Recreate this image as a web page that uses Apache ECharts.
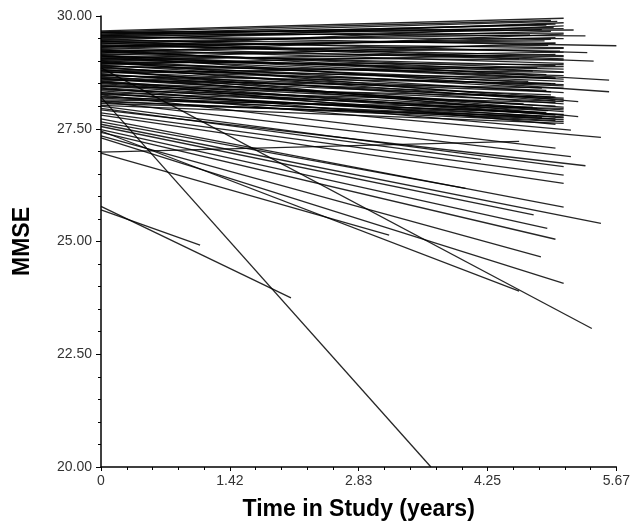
<!DOCTYPE html>
<html>
<head>
<meta charset="utf-8">
<script src="https://cdn.jsdelivr.net/npm/echarts@6/dist/echarts.min.js"></script>
<style>
	html, body { margin: 0; padding: 0; background: #fff; }
	#mmse_chart { width: 633px; height: 527px; }
</style>
</head>
<body>
<div id="mmse_chart"></div>
<script>
	// one entry per subject: value at time 0, last visit time, value at last visit
	var startY = [
		29.67, 29.65, 29.63, 29.62, 29.60, 29.58, 29.57, 29.55, 29.53, 29.52,
		29.50, 29.48, 29.46, 29.45, 29.43, 29.41, 29.40, 29.38, 29.36, 29.35,
		29.33, 29.31, 29.30, 29.28, 29.26, 29.25, 29.23, 29.21, 29.20, 29.18,
		29.16, 29.15, 29.13, 29.11, 29.10, 29.08, 29.06, 29.05, 29.03, 29.01,
		29.00, 28.98, 28.96, 28.95, 28.93, 28.91, 28.90, 28.88, 28.86, 28.84,
		28.82, 28.80, 28.78, 28.76, 28.74, 28.72, 28.70, 28.68, 28.66, 28.64,
		28.62, 28.60, 28.58, 28.56, 28.53, 28.50, 28.47, 28.44, 28.41, 28.38,
		28.34, 28.30, 28.26, 28.22, 28.18, 28.14, 28.10,
		28.97, 28.87, 28.79, 28.69, 28.61, 28.52, 28.45, 28.36, 28.28, 28.20,
		28.12, 28.06, 28.02, 29.02, 29.12, 29.22, 29.32, 29.44, 29.56, 29.64,
		28.55, 28.40, 28.30, 28.25, 28.10, 27.95, 28.00, 27.92, 27.85, 27.80,
		27.65, 27.72, 27.55, 27.60, 27.48, 27.42, 27.34, 27.30, 27.45, 26.96,
		26.98, 28.85, 28.20, 25.70, 25.78
	];
	var endX = [
		5.09, 4.95, 5.20, 5.33, 5.02, 4.90, 5.09, 5.67, 4.98, 5.09,
		4.85, 5.35, 5.09, 5.00, 4.72, 5.09, 5.42, 4.95, 5.09, 4.88,
		5.05, 5.09, 4.60, 5.00, 5.09, 5.59, 4.92, 5.09, 4.80, 5.09,
		5.00, 5.09, 4.90, 5.59, 5.09, 4.75, 5.09, 5.00, 5.09, 4.95,
		5.25, 5.09, 4.85, 5.09, 5.00, 5.09, 4.70, 5.09, 4.98, 5.09,
		5.25, 5.00, 5.09, 4.90, 5.09, 4.80, 5.09, 5.00, 5.09, 4.95,
		5.09, 4.65, 5.09, 5.00, 5.09, 4.88, 5.09, 5.00, 5.09, 4.92,
		5.09, 4.75, 5.09, 5.00, 4.85, 5.09, 5.00,
		5.09, 5.00, 5.09, 4.95, 5.09, 5.00, 5.09, 5.00, 5.09, 4.90,
		5.09, 4.80, 5.09, 5.09, 5.00, 5.09, 4.95, 5.09, 5.00, 5.09,
		5.00, 5.17, 5.50, 5.00, 5.17, 4.18, 5.09, 5.33, 5.09, 5.09,
		4.01, 5.09, 4.76, 5.50, 4.91, 5.00, 4.84, 5.09, 4.60, 3.17,
		4.60, 5.40, 3.63, 1.09, 2.09
	];
	var endY = [
		29.95, 29.90, 29.69, 29.56, 29.88, 29.80, 29.62, 29.34, 29.75, 29.50,
		29.70, 29.19, 29.85, 29.40, 29.58, 29.30, 29.00, 29.66, 29.12, 29.45,
		29.22, 29.78, 29.05, 29.52, 28.95, 28.58, 29.35, 29.10, 28.85, 29.60,
		28.90, 29.28, 28.70, 28.32, 29.02, 28.78, 28.60, 29.40, 28.82, 28.50,
		28.10, 28.92, 28.40, 28.68, 29.15, 28.30, 28.55, 28.75, 28.20, 28.45,
		27.77, 28.62, 28.05, 28.35, 28.88, 27.95, 28.15, 28.50, 27.88, 28.25,
		27.98, 28.05, 28.40, 27.80, 28.10, 27.85, 27.92, 28.20, 27.74, 27.90,
		27.70, 27.98, 27.82, 27.68, 27.75, 27.95, 27.72,
		28.55, 28.12, 28.48, 28.32, 28.18, 28.00, 27.80, 28.08, 27.76, 27.86,
		27.66, 27.78, 27.62, 29.20, 28.62, 28.76, 29.48, 29.05, 29.82, 29.72,
		27.60, 27.47, 27.31, 27.07, 26.88, 26.82, 26.66, 26.68, 26.47, 26.29,
		26.18, 25.76, 25.59, 25.40, 25.29, 25.05, 24.66, 24.07, 23.90, 25.14,
		27.22, 23.07, 20.00, 24.92, 23.75
	];
	var xTickLabels = ['0', '1.42', '2.83', '4.25', '5.67'];

	var chart = echarts.init(document.getElementById('mmse_chart'));
	var lineData = startY.map(function (s, i) {
		return { coords: [[0, s], [endX[i], endY[i]]] };
	});

	chart.setOption({
		animation: false,
		grid: {
			left: 101,
			top: 16,
			width: 517,
			height: 451
		},
		xAxis: {
			type: 'value',
			min: 0,
			max: 5.67,
			interval: 1.4175,
			name: 'Time in Study (years)',
			nameLocation: 'middle',
			nameGap: 31,
			nameTextStyle: {
				fontFamily: 'Liberation Sans, Arial',
				fontWeight: 'bold',
				fontSize: 23,
				color: '#000'
			},
			axisLine: { lineStyle: { color: '#000', width: 1.5 } },
			axisTick: { length: 4, lineStyle: { color: '#000' } },
			minorTick: { show: true, splitNumber: 5, length: 3, lineStyle: { color: '#000' } },
			splitLine: { show: false },
			axisLabel: {
				margin: 7,
				fontFamily: 'Liberation Sans, Arial',
				fontSize: 14,
				color: '#333',
				formatter: function (value, index) {
					return xTickLabels[index];
				}
			}
		},
		yAxis: {
			type: 'value',
			min: 20,
			max: 30,
			interval: 2.5,
			name: 'MMSE',
			nameLocation: 'middle',
			nameGap: 67,
			nameTextStyle: {
				fontFamily: 'Liberation Sans, Arial',
				fontWeight: 'bold',
				fontSize: 23,
				color: '#000'
			},
			axisLine: { show: true, lineStyle: { color: '#000', width: 1.5 } },
			axisTick: { show: true, length: 5, lineStyle: { color: '#000' } },
			minorTick: { show: true, splitNumber: 5, length: 3, lineStyle: { color: '#000' } },
			splitLine: { show: false },
			axisLabel: {
				margin: 9,
				fontFamily: 'Liberation Sans, Arial',
				fontSize: 14,
				color: '#333',
				formatter: function (value) {
					return value.toFixed(2);
				}
			}
		},
		series: [{
			type: 'lines',
			coordinateSystem: 'cartesian2d',
			silent: true,
			lineStyle: {
				color: '#000',
				width: 1.3,
				opacity: 0.85
			},
			data: lineData
		}]
	});
</script>
</body>
</html>
